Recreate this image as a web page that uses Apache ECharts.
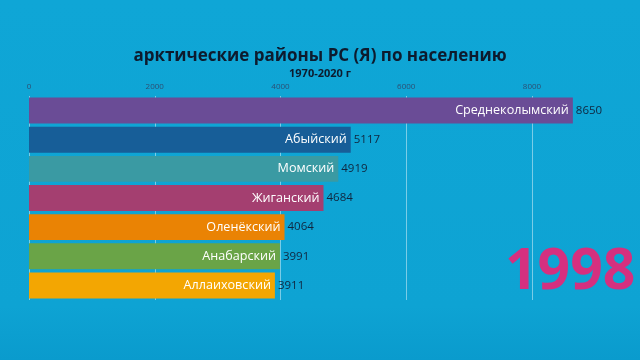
<!DOCTYPE html>
<html>
<head>
<meta charset="utf-8">
<script src="https://cdn.jsdelivr.net/npm/echarts@6/dist/echarts.min.js"></script>
<style>html,body{margin:0;padding:0;}#c{width:640px;height:360px;}</style>
</head>
<body>
<div id="c"></div>
<script>
const categories = ['Среднеколымский','Абыйский','Момский','Жиганский','Оленёкский','Анабарский','Аллаиховский'];
const values = [8650, 5117, 4919, 4684, 4064, 3991, 3911];
const barColors = ['#6a4c96','#175e98','#3a9aa3','#a43f70','#ea8304','#6aa447','#f3a602'];
const tickValues = [0, 2000, 4000, 6000, 8000];
const yearLabel = '1998';
const titleText = 'арктические районы РС (Я) по населению';
const subtitleText = '1970-2020 г';

const chart = echarts.init(document.getElementById('c'));
const dataItems = values.map((v, i) => ({ value: v, itemStyle: { color: barColors[i] } }));
chart.setOption({
  backgroundColor: {
    type: 'linear', x: 0, y: 0, x2: 0, y2: 1,
    colorStops: [{ offset: 0, color: '#0fa6d6' }, { offset: 0.85, color: '#0ea3d3' }, { offset: 1, color: '#0a9bcd' }]
  },
  title: [{
    text: titleText, left: 'center', top: 43,
    textStyle: { fontFamily: 'Open Sans', fontWeight: 'bold', fontSize: 17, color: '#0d1b2e' }
  }, {
    text: subtitleText, left: 'center', top: 63,
    textStyle: { fontFamily: 'Open Sans', fontWeight: 'bold', fontSize: 11, color: '#0d1b2e' }
  }],
  grid: { left: 29, top: 96, width: 503, height: 204 },
  xAxis: {
    type: 'value', position: 'top', min: 0, max: 8000, interval: 2000,
    axisLine: { show: false }, axisTick: { show: false },
    axisLabel: { fontSize: 8, color: '#2d4f73', margin: 5, fontFamily: 'Open Sans',
      formatter: v => tickValues.indexOf(v) >= 0 ? String(v) : '' },
    splitLine: { show: true, lineStyle: { color: 'rgba(255,255,255,0.45)', width: 1 } }
  },
  yAxis: {
    type: 'category', data: categories, inverse: true,
    axisLine: { show: false }, axisTick: { show: false }, axisLabel: { show: false }, splitLine: { show: false }
  },
  series: [{
    type: 'bar', data: dataItems, barCategoryGap: '11%', clip: false,
    label: {
      show: true, position: 'insideRight', formatter: p => p.name, color: '#ffffff',
      fontFamily: 'Open Sans', fontSize: 12.6, distance: 4
    }
  }, {
    type: 'bar', data: values, barCategoryGap: '11%', barGap: '-100%', clip: false,
    itemStyle: { color: 'rgba(0,0,0,0)' }, silent: true,
    label: {
      show: true, position: 'right', formatter: p => p.value, color: '#10263f',
      fontFamily: 'Open Sans', fontSize: 11.5, distance: 3
    }
  }],
  graphic: [{
    type: 'text', left: 505, top: 244, z: 10,
    style: { text: yearLabel, fontFamily: 'Open Sans', fontWeight: 'bold', fontSize: 57, fill: '#d5307f' }
  }],
  animation: false
});
</script>
</body>
</html>
